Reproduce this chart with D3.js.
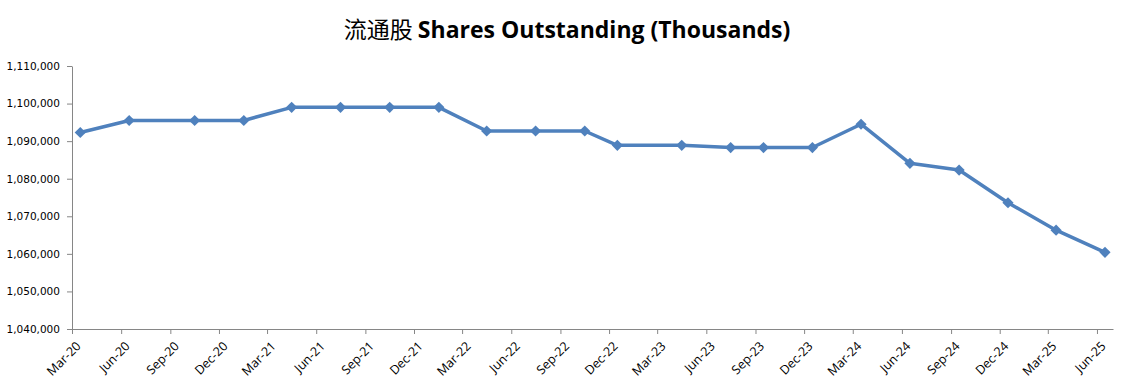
<!DOCTYPE html>
<html>
<head>
<meta charset="utf-8">
<script src="https://cdn.jsdelivr.net/npm/d3@7"></script>
<style>
  body { margin: 0; background: #fff; }
  .axis path, .axis line { stroke: #868686; }
</style>
</head>
<body>
<div id="chart"></div>
<script>
// quarter-end months of each reported value
const months = ["2020-03", "2020-06", "2020-10", "2021-01", "2021-04", "2021-07", "2021-10",
    "2022-01", "2022-04", "2022-07", "2022-10", "2022-12", "2023-04", "2023-07", "2023-09",
    "2023-12", "2024-03", "2024-06", "2024-09", "2024-12", "2025-03", "2025-06"];
const shares = [1092300, 1095500, 1095500, 1095500, 1099000, 1099000, 1099000,
    1099000, 1092700, 1092700, 1092700, 1088900, 1088900, 1088300, 1088300,
    1088300, 1094500, 1084100, 1082300, 1073600, 1066300, 1060400];
const yTicks = [1040000, 1050000, 1060000, 1070000, 1080000, 1090000, 1100000, 1110000];

const width = 1129, height = 385;
const margin = {top: 66, right: 16, bottom: 56, left: 72};

const parse = d3.timeParse("%Y-%m");
const data = months.map((m, i) => ({date: parse(m), value: shares[i]}));

const svg = d3.select("#chart").append("svg")
    .attr("width", width)
    .attr("height", height);

const x = d3.scaleTime()
    .domain([parse("2020-03"), parse("2025-07")])
    .range([margin.left, width - margin.right]);

const y = d3.scaleLinear()
    .domain([1040000, 1110000])
    .range([height - margin.bottom, margin.top]);

// points sit in the middle of their month
const xMid = d => (x(d) + x(d3.timeMonth.offset(d, 1))) / 2;

svg.append("text")
    .attr("x", 567)
    .attr("y", 38)
    .attr("text-anchor", "middle")
    .style("font-size", "23px")
    .style("font-weight", "bold")
    .style("font-family", "'Open Sans', sans-serif")
    .call(t => {
        t.append("tspan").style("font-family", "'Noto Sans CJK SC'").style("font-weight", "normal").text("流通股 ");
        t.append("tspan").text("Shares Outstanding (Thousands)");
    });

// y axis
svg.append("g")
    .attr("class", "axis")
    .attr("transform", `translate(${margin.left},0)`)
    .call(d3.axisLeft(y).tickValues(yTicks).tickFormat(d3.format(",")).tickSize(5).tickSizeOuter(0))
    .call(g => g.selectAll("text")
        .attr("x", -12)
        .style("font-family", "'DejaVu Sans', sans-serif")
        .style("font-size", "10.5px")
        .attr("fill", "#000"));

// x axis, every three months from Mar-20
const xTicks = d3.timeMonth.range(parse("2020-03"), parse("2025-07"), 3);
svg.append("g")
    .attr("class", "axis")
    .attr("transform", `translate(0,${height - margin.bottom})`)
    .call(d3.axisBottom(x).tickValues(xTicks).tickFormat(d3.timeFormat("%b-%y")).tickSize(5).tickSizeOuter(0))
    .call(g => g.selectAll("text")
        .attr("text-anchor", "end")
        .attr("dy", null)
        .attr("y", 0)
        .attr("transform", "translate(9,18) rotate(-45)")
        .style("font-family", "'Open Sans', sans-serif")
        .style("font-size", "12.5px")
        .attr("fill", "#000"));

const line = d3.line()
    .x(d => xMid(d.date))
    .y(d => y(d.value));

svg.append("path")
    .datum(data)
    .attr("fill", "none")
    .attr("stroke", "#4F81BD")
    .attr("stroke-width", 3.5)
    .attr("stroke-linejoin", "round")
    .attr("d", line);

svg.selectAll(".marker")
    .data(data)
    .enter()
    .append("path")
        .attr("class", "marker")
        .attr("d", d3.symbol().type(d3.symbolDiamond2).size(80))
        .attr("transform", d => `translate(${xMid(d.date)},${y(d.value)})`)
        .attr("fill", "#4F81BD");
</script>
</body>
</html>
